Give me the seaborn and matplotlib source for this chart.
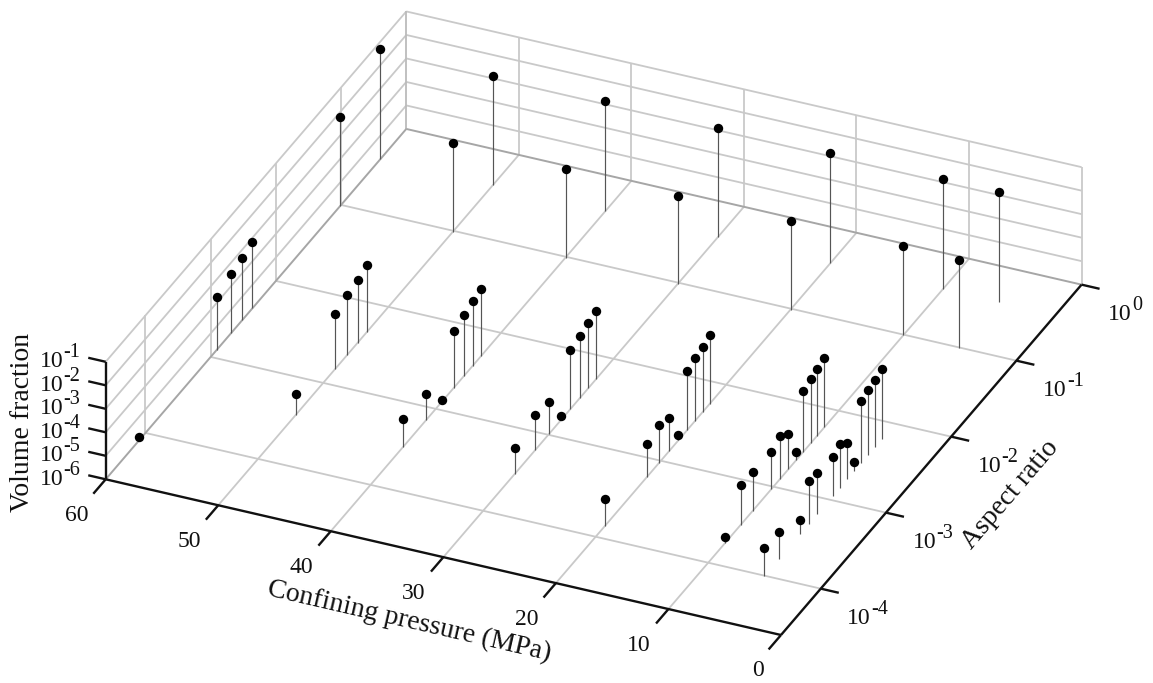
"""
Stem chart of crack volume fraction vs aspect ratio and confining pressure,
drawn as a parallel projection of the three axes onto one flat seaborn axes.
Aspect ratio and volume fraction are kept as log10 exponents.
"""
import matplotlib
matplotlib.use("Agg")
import matplotlib.pyplot as plt
import numpy as np
import pandas as pd
import seaborn as sns

# ----------------------------------------------------------------------
# Data
# ----------------------------------------------------------------------
p60_aspect = [-0.40, -1.01, -2.36, -2.515, -2.69, -2.91, -4.10]
p60_volume = [-1.31, -2.23, -3.19, -3.35, -3.49, -3.76, -5.85]

p50_aspect = [-0.40, -1.01, -2.33, -2.47, -2.63, -2.815, -3.42]
p50_volume = [-1.35, -2.24, -3.16, -3.32, -3.45, -3.68, -5.12]

p40_aspect = [-0.40, -1.01, -2.30, -2.43, -2.57, -2.725, -2.91, -3.145, -3.50]
p40_volume = [-1.33, -2.24, -3.15, -3.26, -3.39, -3.57, -5.93, -4.88, -4.82]

p30_aspect = [-0.40, -1.01, -2.27, -2.39, -2.52, -2.66, -2.806, -2.985, -3.20, -3.516]
p30_volume = [-1.34, -2.26, -3.11, -3.22, -3.36, -3.51, -5.84, -4.67, -4.51, -4.88]

p20_aspect = [-0.40, -1.01, -2.25, -2.36, -2.48, -2.60, -2.73, -2.875, -3.03, -3.22, -3.86]
p20_volume = [-1.32, -2.23, -3.08, -3.21, -3.32, -3.46, -5.77, -4.60, -4.38, -4.58, -4.85]

p10_aspect = [-0.40, -1.01, -2.22, -2.33, -2.43, -2.54, -2.65, -2.77, -2.894, -3.03,
              -3.32, -3.50, -3.74]
p10_volume = [-1.32, -2.21, -3.06, -3.16, -3.28, -3.42, -5.67, -4.51, -4.20, -4.41,
              -4.33, -4.33, -5.73]

p5_aspect = [-0.40, -1.01, -2.20, -2.31, -2.41, -2.52, -2.62, -2.73, -2.84, -2.95,
             -3.19, -3.32, -3.455, -3.78, -4.00]
p5_volume = [-1.33, -2.23, -3.03, -3.15, -3.26, -3.37, -5.63, -4.47, -4.17, -4.33,
             -4.23, -4.16, -5.40, -4.84, -4.83]

series = {60: (p60_aspect, p60_volume), 50: (p50_aspect, p50_volume),
          40: (p40_aspect, p40_volume), 30: (p30_aspect, p30_volume),
          20: (p20_aspect, p20_volume), 10: (p10_aspect, p10_volume),
          5: (p5_aspect, p5_volume)}

pressure_ticks = [60, 50, 40, 30, 20, 10, 0]
aspect_ticks = [-4, -3, -2, -1, 0]
volume_ticks = [-6, -5, -4, -3, -2, -1]

# axis limits
P_MAX, P_MIN = 60, 0
A_MIN, A_MAX = -4.61, 0
V_MIN, V_MAX = -6, -1

GRID = "#c9c9c9"
EDGE = "#a6a6a6"
SERIF = "Liberation Serif"


# ----------------------------------------------------------------------
# Projection: pressure, log aspect, log volume -> figure pixels
# ----------------------------------------------------------------------
def project(p, a, v=V_MIN):
    x = 781 - 11.255 * np.asarray(p, float) + 65.2 * (np.asarray(a, float) - A_MIN)
    y = 635 - 2.595 * np.asarray(p, float) - 76 * (np.asarray(a, float) - A_MIN) \
        - 23.5 * (np.asarray(v, float) - V_MIN)
    return x, y


def line3d(ax, p, a, v, **kw):
    x, y = project(p, a, v)
    ax.plot(x, y, solid_capstyle="butt", **kw)


def power_label(ax, x, y, exp):
    """'10' with a small raised exponent; x is the left edge of the 10."""
    ax.text(x, y, "10", fontsize=17, ha="left", va="center", color="#111111")
    ax.text(x + 24, y - 9, str(exp), fontsize=14.6, ha="left", va="center", color="#111111")


# ----------------------------------------------------------------------
# Main
# ----------------------------------------------------------------------
def main():
    sns.set_theme(style="white")
    plt.rcParams["font.family"] = [SERIF, "DejaVu Serif"]

    fig = plt.figure(figsize=(11.53, 6.83), dpi=100)
    ax = fig.add_axes([0, 0, 1, 1])
    ax.set_xlim(0, 1153)
    ax.set_ylim(683, 0)
    ax.axis("off")

    grid = dict(color=GRID, lw=1.3, zorder=1)
    edge = dict(color=EDGE, lw=1.4, zorder=1.5)
    axis = dict(color="#111111", lw=1.7, zorder=4)

    # floor grid
    for p in pressure_ticks[1:-1]:
        line3d(ax, [p, p], [A_MIN, A_MAX], [V_MIN, V_MIN], **grid)
    for a in aspect_ticks[:-1]:
        line3d(ax, [P_MIN, P_MAX], [a, a], [V_MIN, V_MIN], **grid)

    # left wall (p = 60) and back wall (aspect = 1)
    for v in volume_ticks[1:]:
        line3d(ax, [P_MAX, P_MAX], [A_MIN, A_MAX], [v, v], **grid)
        line3d(ax, [P_MIN, P_MAX], [A_MAX, A_MAX], [v, v], **grid)
    for a in aspect_ticks[:-1]:
        line3d(ax, [P_MAX, P_MAX], [a, a], [V_MIN, V_MAX], **grid)
    for p in pressure_ticks[1:]:
        line3d(ax, [p, p], [A_MAX, A_MAX], [V_MIN, V_MAX], **grid)
    line3d(ax, [P_MAX, P_MAX], [A_MAX, A_MAX], [V_MIN, V_MAX], color="#bbbbbb", lw=1.3, zorder=1)

    # darker floor edges along the walls
    line3d(ax, [P_MAX, P_MAX], [A_MIN, A_MAX], [V_MIN, V_MIN], **edge)
    line3d(ax, [P_MIN, P_MAX], [A_MAX, A_MAX], [V_MIN, V_MIN], **edge)

    # black axes and ticks
    line3d(ax, [P_MIN, P_MAX], [A_MIN, A_MIN], [V_MIN, V_MIN], **axis)
    line3d(ax, [P_MIN, P_MIN], [A_MIN, A_MAX], [V_MIN, V_MIN], **axis)
    line3d(ax, [P_MAX, P_MAX], [A_MIN, A_MIN], [V_MIN, V_MAX], **axis)
    for p in pressure_ticks:
        line3d(ax, [p, p], [A_MIN, A_MIN - 0.19], [V_MIN, V_MIN], **axis)
        x, y = project(p, A_MIN)
        ax.text(x - 17.5, y + 36, str(p), fontsize=17, ha="right", va="center", color="#111111")
    for a in aspect_ticks:
        line3d(ax, [P_MIN, -1.6], [a, a], [V_MIN, V_MIN], **axis)
        x, y = project(P_MIN, a)
        power_label(ax, x + 26.5, y + 30, a)
    for v in volume_ticks:
        line3d(ax, [P_MAX, 61.55], [A_MIN, A_MIN], [v, v], **axis)
        x, y = project(P_MAX, A_MIN, v)
        power_label(ax, x - 66, y, v)

    # stems and markers
    rows = []
    for p, (aspect, volume) in series.items():
        for a, v in zip(aspect, volume):
            rows.append({"pressure": p, "aspect": a, "volume": v})
    df = pd.DataFrame(rows)
    df["foot_x"], df["foot_y"] = project(df["pressure"], df["aspect"])
    df["top_x"], df["top_y"] = project(df["pressure"], df["aspect"], df["volume"])

    ax.vlines(df["foot_x"], df["foot_y"], df["top_y"], color="#555555", lw=0.85, zorder=2)
    sns.scatterplot(data=df, x="top_x", y="top_y", color="black", s=46, linewidth=0,
                    zorder=3, legend=False, ax=ax)
    ax.set_xlabel("")
    ax.set_ylabel("")

    # axis titles
    ax.text(23, 422, "Volume fraction", fontsize=20, rotation=90,
            ha="center", va="center", color="#111111")
    ax.text(409, 621, "Confining pressure (MPa)", fontsize=20, rotation=-13,
            rotation_mode="anchor", ha="center", va="center", color="#111111")
    ax.text(1010, 495, "Aspect ratio", fontsize=20, rotation=49.4,
            rotation_mode="anchor", ha="center", va="center", color="#111111")

    fig.savefig("out.png", dpi=100, facecolor="white")
    plt.close(fig)


if __name__ == "__main__":
    main()
